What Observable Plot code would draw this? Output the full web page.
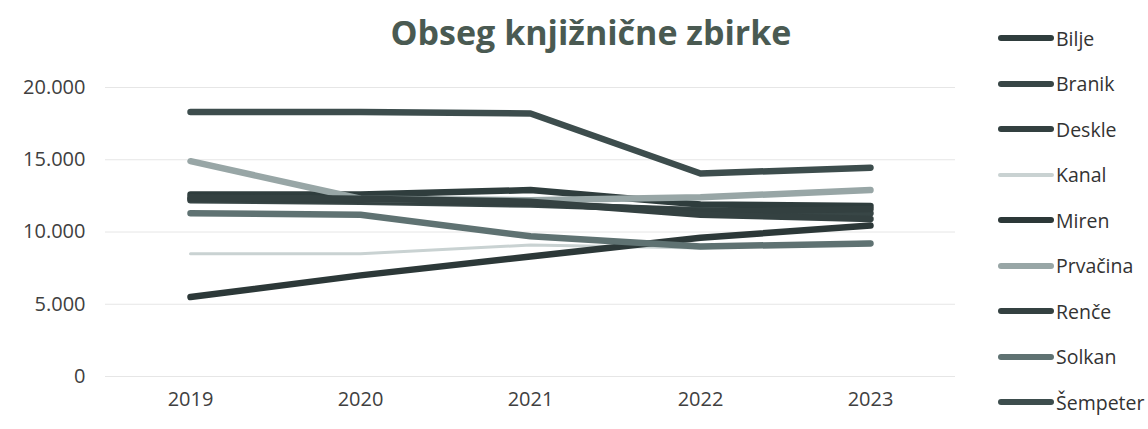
<!DOCTYPE html>
<html>
<head>
<meta charset="utf-8">
<script src="https://cdn.jsdelivr.net/npm/d3@7"></script>
<script src="https://cdn.jsdelivr.net/npm/@observablehq/plot@0.6"></script>
<style>
  html, body { margin: 0; padding: 0; background: #fff; }
  #wrap { position: relative; width: 1148px; height: 429px; overflow: hidden; font-family: "Open Sans", sans-serif; }
  #title { position: absolute; left: 0; width: 1182px; top: 8px; text-align: center; font-size: 34px; font-weight: 700; color: #4a5a52; line-height: 48px; }
  #legend { position: absolute; left: 998px; top: 0; }
  .row { position: absolute; left: 0; height: 24px; display: flex; align-items: center; white-space: nowrap; font-size: 19.5px; color: #333; }
  .sw { width: 56px; height: 6px; border-radius: 3px; margin-right: 2px; }
</style>
</head>
<body>
<div id="wrap">
  <div id="title">Obseg knjižnične zbirke</div>
  <div id="chart"></div>
  <div id="legend"></div>
</div>
<script>
const years = ["2019", "2020", "2021", "2022", "2023"];
const names = ["Bilje", "Branik", "Deskle", "Kanal", "Miren", "Prvačina", "Renče", "Solkan", "Šempeter"];
const bilje    = [12600, 12600, 12900, 11900, 11800];
const branik   = [12200, 12100, 11900, 11500, 11300];
const deskle   = [12300, 12200, 12000, 11400, 11600];
const kanal    = [8500, 8500, 9100, 8900, 9300];
const miren    = [5500, 7000, 8300, 9600, 10450];
const prvacina = [14900, 12300, 12200, 12400, 12900];
const rence    = [12400, 12300, 12100, 11200, 10900];
const solkan   = [11300, 11200, 9700, 9000, 9200];
const sempeter = [18300, 18300, 18200, 14050, 14450];
const yTicks = [0, 5000, 10000, 15000, 20000];
const colors = ["#2f3d3d", "#384646", "#334040", "#c9d2d2", "#2c3838", "#98a6a6", "#344141", "#5f7272", "#3d4d4d"];
const widths = [6.5, 6.5, 6.5, 3, 6.5, 6.5, 6.5, 6.5, 6.5];

const seriesValues = [bilje, branik, deskle, kanal, miren, prvacina, rence, solkan, sempeter];
const data = [];
names.forEach((n, i) => years.forEach((y, j) => data.push({name: n, year: y, value: seriesValues[i][j]})));

const fmt = d => d3.format(",")(d).replace(/,/g, ".");

const chart = Plot.plot({
  width: 1148,
  height: 429,
  marginLeft: 105,
  marginRight: 193,
  marginTop: 87,
  marginBottom: 53,
  style: {fontFamily: "Open Sans, sans-serif", fontSize: "20px", color: "#404040", background: "transparent"},
  x: {type: "point", domain: years, padding: 0.5, label: null, tickSize: 0, tickPadding: 15},
  y: {domain: [0, 20000], ticks: yTicks, tickFormat: fmt, label: null, tickSize: 0, tickPadding: 20},
  color: {domain: names, range: colors},
  marks: [
    Plot.ruleY(yTicks, {stroke: "#e6e6e6", strokeWidth: 1}),
    ...names.map((n, i) => Plot.line(data.filter(d => d.name === n), {
      x: "year", y: "value", stroke: "name", strokeWidth: widths[i], strokeLinecap: "round", strokeLinejoin: "round"
    }))
  ]
});
document.getElementById("chart").appendChild(chart);

const legend = document.getElementById("legend");
names.forEach((n, i) => {
  const row = document.createElement("div");
  row.className = "row";
  row.style.top = (26 + i * 45.5) + "px";
  const sw = document.createElement("span");
  sw.className = "sw";
  sw.style.background = colors[i];
  sw.style.height = (i === 3 ? 4 : 6) + "px";
  const t = document.createElement("span");
  t.textContent = n;
  row.appendChild(sw);
  row.appendChild(t);
  legend.appendChild(row);
});
</script>
</body>
</html>
